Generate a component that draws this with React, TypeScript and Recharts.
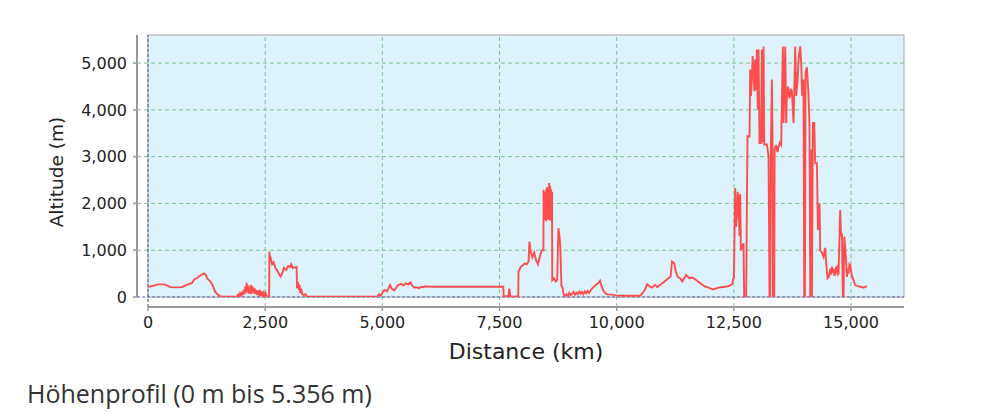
import React from 'react';
import { LineChart, Line, XAxis, YAxis, ReferenceLine, ReferenceArea } from 'recharts';

const DISTANCE_KM = [
  0, 40, 150, 200, 350, 420, 470, 600, 730, 800, 880, 940, 990, 1040, 1100, 1190, 1230, 1260, 1310, 1360,
  1400, 1430, 1480, 1540, 1600, 1900, 1920, 1940, 1960, 1980, 2000, 2020, 2040, 2060, 2075, 2090, 2105, 2115,
  2130, 2145, 2160, 2175, 2190, 2205, 2220, 2235, 2250, 2265, 2280, 2295, 2310, 2330, 2350, 2370, 2390, 2410,
  2430, 2450, 2470, 2490, 2510, 2530, 2560, 2585, 2590, 2600, 2620, 2650, 2680, 2720, 2760, 2800, 2830, 2870,
  2900, 2950, 2990, 3030, 3055, 3090, 3170, 3180, 3200, 3220, 3235, 3250, 3270, 3290, 3320, 3360, 3390, 3500,
  4880, 4930, 4970, 5010, 5060, 5100, 5165, 5200, 5250, 5300, 5330, 5400, 5450, 5500, 5550, 5600, 5640, 5680,
  5720, 5780, 5840, 5870, 5910, 6090, 7580, 7590, 7690, 7710, 7730, 7790, 7840, 7900, 7905, 7950, 8000, 8040,
  8080, 8120, 8138, 8160, 8200, 8240, 8280, 8320, 8360, 8400, 8437, 8440, 8450, 8460, 8470, 8480, 8490, 8500,
  8510, 8520, 8530, 8540, 8550, 8560, 8570, 8580, 8590, 8600, 8610, 8620, 8625, 8660, 8700, 8730, 8757, 8780,
  8800, 8820, 8840, 8870, 8900, 8930, 8960, 8990, 9020, 9050, 9080, 9110, 9140, 9170, 9200, 9230, 9260, 9290,
  9320, 9350, 9380, 9410, 9450, 9490, 9560, 9610, 9645, 9680, 9720, 9760, 9800, 9900, 10000, 10200, 10500,
  10540, 10600, 10650, 10700, 10750, 10820, 10870, 10930, 11000, 11100, 11150, 11180, 11230, 11260, 11300,
  11350, 11400, 11480, 11550, 11620, 11700, 11790, 11870, 11960, 12060, 12170, 12380, 12460, 12490, 12500,
  12528, 12545, 12565, 12580, 12600, 12620, 12635, 12650, 12671, 12706, 12720, 12763, 12778, 12791, 12834,
  12848, 12865, 12885, 12900, 12920, 12940, 12955, 12977, 12991, 13010, 13026, 13047, 13077, 13098, 13120,
  13133, 13148, 13205, 13240, 13261, 13275, 13290, 13312, 13325, 13333, 13361, 13370, 13400, 13430, 13453,
  13480, 13510, 13525, 13546, 13560, 13596, 13617, 13632, 13660, 13680, 13702, 13720, 13738, 13773, 13788,
  13809, 13830, 13858, 13879, 13916, 13937, 13958, 13986, 14001, 14016, 14029, 14059, 14093, 14114, 14129,
  14144, 14165, 14186, 14214, 14236, 14272, 14293, 14328, 14342, 14378, 14413, 14449, 14470, 14498, 14527,
  14556, 14575, 14592, 14610, 14627, 14645, 14663, 14680, 14698, 14715, 14733, 14769, 14780, 14791, 14805,
  14826, 14840, 14855, 14876, 14897, 14911, 14930, 14947, 14965, 14983, 15019, 15054, 15090, 15196, 15267,
  15339,
];

const ALTITUDE_M = [
  220, 225, 250, 270, 270, 240, 210, 205, 210, 250, 280, 300, 380, 400, 450, 505, 480, 400, 350, 290,
  200, 114, 60, 20, 5, 10, 50, 15, 70, 20, 110, 40, 150, 60, 220, 90, 306, 120, 250,
  70, 200, 80, 260, 60, 240, 110, 200, 70, 180, 60, 150, 40, 140, 50, 110, 20,
  120, 30, 90, 20, 80, 15, 10, 20, 970, 760, 820, 700, 740, 620, 560, 480, 435, 520,
  620, 580, 660, 640, 700, 620, 640, 190, 320, 150, 260, 80, 180, 60, 40, 60, 10, 5,
  5, 60, 30, 110, 150, 120, 257, 180, 140, 200, 250, 280, 250, 290, 270, 310, 240, 200,
  210, 190, 220, 210, 225, 220, 220, 10, 20, 180, 20, 5, 10, 20, 540, 640, 680, 720,
  700, 760, 1185, 1000, 850, 950, 780, 700, 860, 1000, 1000, 2290, 1650, 2200, 1700, 2250, 1620, 2320,
  1680, 2350, 1650, 2280, 1700, 2435, 1640, 2380, 1660, 2300, 1620, 2250, 360, 400, 330, 370, 1470, 1300,
  1000, 240, 220, 50, 20, 60, 30, 90, 40, 70, 110, 50, 90, 60, 120, 70, 110, 60,
  120, 80, 130, 90, 150, 200, 260, 300, 350, 220, 130, 80, 57, 50, 30, 28, 28,
  70, 150, 272, 230, 200, 257, 215, 260, 314, 400, 435, 757, 720, 550, 430,
  400, 330, 470, 400, 415, 360, 290, 230, 200, 160, 200, 230, 270, 400, 400,
  2328, 1500, 1720, 2250, 2050, 1300, 2200, 1007, 1050, 1150, 0, 0, 2007, 3434, 3430,
  4863, 4300, 4650, 5150, 4800, 4400, 5077, 4423, 5290, 4000, 5290, 3292, 3292, 5290, 3300,
  5356, 3260, 3260, 3006, 0, 0, 3260, 4650, 3260, 0, 0, 3150, 3250, 3100, 3200,
  3300, 3250, 4200, 5356, 3720, 5356, 3720, 4364, 4500, 4250, 4300, 4450, 4400, 3720, 4364,
  5356, 4300, 4600, 5075, 5356, 4980, 4300, 4650, 0, 0, 4780, 4910, 4300, 3650, 0,
  3150, 0, 3720, 3720, 2860, 2860, 1435, 2000, 1000, 950, 860, 1050, 720, 400, 430,
  600, 480, 650, 520, 600, 450, 520, 620, 640, 480, 500, 1860, 1500, 1300, 1360,
  0, 0, 1290, 1050, 720, 430, 600, 500, 700, 680, 450, 360, 250, 220, 200,
  230,
];

const X_TICKS = [0, 2500, 5000, 7500, 10000, 12500, 15000];
const Y_TICKS = [0, 1000, 2000, 3000, 4000, 5000];
const X_MAX = 16130;
const Y_MAX = 5600;
const X_LABEL = 'Distance (km)';
const Y_LABEL = 'Altitude (m)';
const CAPTION = 'Höhenprofil (0 m bis 5.356 m)';

const data = DISTANCE_KM.map((km, i) => ({ km, alt: ALTITUDE_M[i] }));

const W = 1000;
const H = 370;
const M = { top: 35, right: 96, bottom: 8, left: 37 };
const Y_AXIS_W = 100;
const X_AXIS_H = 55;
const PAD_L = 11;
const PAD_B = 10;
const plotLeft = M.left + Y_AXIS_W;
const plotRight = W - M.right;
const plotTop = M.top;
const plotBottom = H - M.bottom - X_AXIS_H;

const FONT = '"DejaVu Sans", sans-serif';
const fmt = (v: number) => v.toLocaleString('en-US');

const XTitle = (props: any) => {
  const vb = props.viewBox || { x: plotLeft, width: plotRight - plotLeft, y: plotBottom };
  const cx = vb.x + PAD_L + (vb.width - PAD_L) / 2;
  return (
    <text x={cx} y={plotBottom + 52} textAnchor="middle" fontFamily={FONT} fontSize={22} fill="#222">
      {X_LABEL}
    </text>
  );
};

const YTitle = () => {
  const cx = 63;
  const cy = 172;
  return (
    <text
      x={cx}
      y={cy}
      textAnchor="middle"
      transform={`rotate(-90 ${cx} ${cy})`}
      fontFamily={FONT}
      fontSize={18.5}
      fill="#222"
    >
      {Y_LABEL}
    </text>
  );
};

const GRID = '#7cc48c';
const ZERO = '#5866b0';
const AXIS = '#9a9a9a';

export default function App() {
  return (
    <div style={{ position: 'absolute', left: 0, top: 0, width: 1000, height: 416, background: '#fff' }}>
      <LineChart width={W} height={H} data={data} margin={M}>
        <ReferenceArea
          x1={0}
          x2={X_MAX}
          y1={0}
          y2={Y_MAX}
          fill="#ddf2fb"
          fillOpacity={1}
          stroke="#a8a8a8"
          strokeWidth={1}
          ifOverflow="visible"
        />
        {X_TICKS.filter((v) => v !== 0).map((v) => (
          <ReferenceLine key={'gx' + v} x={v} stroke={GRID} strokeWidth={1} strokeDasharray="4 3" />
        ))}
        {Y_TICKS.filter((v) => v !== 0).map((v) => (
          <ReferenceLine key={'gy' + v} y={v} stroke={GRID} strokeWidth={1} strokeDasharray="4 3" />
        ))}
        <ReferenceLine x={0} stroke={ZERO} strokeWidth={1.2} strokeDasharray="3 2" />
        <ReferenceLine y={0} stroke={ZERO} strokeWidth={1.2} strokeDasharray="3 2" />
        <XAxis
          type="number"
          dataKey="km"
          domain={[0, X_MAX]}
          ticks={X_TICKS}
          allowDataOverflow
          padding={{ left: PAD_L, right: 0 }}
          height={X_AXIS_H}
          axisLine={false}
          tickLine={{ stroke: AXIS, strokeWidth: 1.5 }}
          tickSize={4}
          tickMargin={6}
          tickFormatter={fmt}
          tick={{ fontFamily: FONT, fontSize: 16, fill: '#222' }}
          label={<XTitle />}
        />
        <YAxis
          type="number"
          domain={[0, Y_MAX]}
          ticks={Y_TICKS}
          allowDataOverflow
          padding={{ top: 0, bottom: PAD_B }}
          width={Y_AXIS_W}
          axisLine={false}
          tickLine={{ stroke: AXIS, strokeWidth: 1.5 }}
          tickSize={4}
          tickMargin={6}
          tickFormatter={fmt}
          tick={{ fontFamily: FONT, fontSize: 16, fill: '#222' }}
          label={<YTitle />}
        />
        <Line
          type="linear"
          dataKey="alt"
          stroke="#ff4d4d"
          strokeWidth={1.9}
          dot={false}
          activeDot={false}
          isAnimationActive={false}
        />
        <line x1={plotLeft} x2={plotLeft} y1={plotTop} y2={plotBottom - PAD_B} stroke={AXIS} strokeWidth={2} />
        <line x1={plotLeft + PAD_L} x2={plotRight} y1={plotBottom} y2={plotBottom} stroke={AXIS} strokeWidth={2} />
      </LineChart>
      <div
        style={{
          position: 'absolute',
          left: 27,
          top: 376,
          fontFamily: '"Open Sans", sans-serif',
          fontSize: 25,
          color: '#333',
          whiteSpace: 'nowrap',
        }}
      >
        {CAPTION}
      </div>
    </div>
  );
}
